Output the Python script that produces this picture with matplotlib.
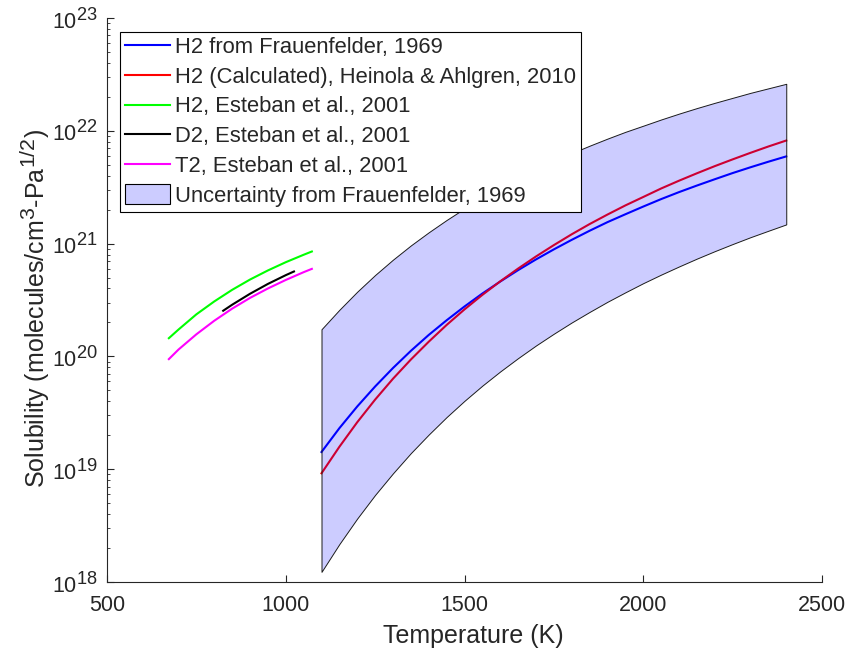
import numpy as np
import matplotlib
matplotlib.use("Agg")
import matplotlib.pyplot as plt
import matplotlib._mathtext as _mt
from matplotlib.patches import Patch, Rectangle
from matplotlib.lines import Line2D
from matplotlib.legend_handler import HandlerPatch
from matplotlib.ticker import LogLocator, NullFormatter

# MATLAB-style (larger) superscripts
_mt.SHRINK_FACTOR = 0.85

plt.rcParams['font.family'] = ['Liberation Sans', 'DejaVu Sans']
plt.rcParams['mathtext.fontset'] = 'custom'
plt.rcParams['mathtext.rm'] = 'Liberation Sans'
plt.rcParams['mathtext.it'] = 'Liberation Sans:italic'
plt.rcParams['mathtext.bf'] = 'Liberation Sans:bold'

# ---------------- data ----------------
T_band = [1100, 1150, 1200, 1250, 1300, 1350, 1400, 1450, 1500, 1550, 1600, 1650, 1700, 1750,
          1800, 1850, 1900, 1950, 2000, 2050, 2100, 2150, 2200, 2250, 2300, 2350, 2400]
H2_frauenfelder = [1.42e19, 2.31e19, 3.60e19, 5.41e19, 7.89e19, 1.12e20, 1.55e20, 2.09e20,
                   2.77e20, 3.61e20, 4.61e20, 5.82e20, 7.24e20, 8.89e20, 1.08e21, 1.30e21,
                   1.55e21, 1.82e21, 2.13e21, 2.48e21, 2.86e21, 3.27e21, 3.72e21, 4.22e21,
                   4.75e21, 5.32e21, 5.93e21]
H2_heinola = [9.20e18, 1.58e19, 2.61e19, 4.14e19, 6.34e19, 9.38e19, 1.35e20, 1.90e20,
              2.61e20, 3.51e20, 4.63e20, 6.01e20, 7.69e20, 9.70e20, 1.21e21, 1.49e21,
              1.81e21, 2.18e21, 2.59e21, 3.08e21, 3.61e21, 4.20e21, 4.86e21, 5.58e21,
              6.38e21, 7.26e21, 8.20e21]
unc_upper = [1.74e20, 2.59e20, 3.75e20, 5.27e20, 7.21e20, 9.64e20, 1.26e21, 1.62e21,
             2.05e21, 2.55e21, 3.13e21, 3.79e21, 4.55e21, 5.40e21, 6.34e21, 7.38e21,
             8.53e21, 9.79e21, 1.11e22, 1.26e22, 1.42e22, 1.59e22, 1.77e22, 1.96e22,
             2.17e22, 2.38e22, 2.61e22]
unc_lower = [1.23e18, 2.17e18, 3.66e18, 5.92e18, 9.20e18, 1.39e19, 2.03e19, 2.90e19,
             4.04e19, 5.51e19, 7.36e19, 9.66e19, 1.25e20, 1.59e20, 2.00e20, 2.48e20,
             3.05e20, 3.70e20, 4.46e20, 5.31e20, 6.27e20, 7.36e20, 8.57e20, 9.91e20,
             1.14e21, 1.30e21, 1.48e21]

T_esteban = [673, 700, 750, 800, 850, 900, 950, 1000, 1050, 1073]
H2_esteban = [1.45e20, 1.73e20, 2.36e20, 3.07e20, 3.89e20, 4.80e20, 5.78e20, 6.84e20, 7.96e20, 8.51e20]
T2_esteban = [9.46e19, 1.15e20, 1.57e20, 2.07e20, 2.65e20, 3.30e20, 4.00e20, 4.76e20, 5.58e20, 5.97e20]

T_d2 = [825, 850, 900, 950, 1000, 1023]
D2_esteban = [2.54e20, 2.87e20, 3.59e20, 4.39e20, 5.25e20, 5.66e20]

labels = ["H2 from Frauenfelder, 1969",
          "H2 (Calculated), Heinola & Ahlgren, 2010",
          "H2, Esteban et al., 2001",
          "D2, Esteban et al., 2001",
          "T2, Esteban et al., 2001",
          "Uncertainty from Frauenfelder, 1969"]
colors = ["#0000ff", "#ff0000", "#00ff00", "#000000", "#ff00ff"]

xticks = [500, 1000, 1500, 2000, 2500]

# ---------------- figure ----------------
fig = plt.figure(figsize=(8.52, 6.61), dpi=100)
ax = fig.add_axes([107/852, 1 - 582/661, 715/852, 564/661])

txtc = (0.15, 0.15, 0.15)
lw = 1.5
ax.plot(T_band, H2_frauenfelder, color=colors[0], lw=lw, zorder=2)
ax.plot(T_band, H2_heinola, color=colors[1], lw=lw, zorder=2)
ax.plot(T_esteban, H2_esteban, color=colors[2], lw=lw, zorder=2)
ax.plot(T_d2, D2_esteban, color=colors[3], lw=lw, zorder=2)
ax.plot(T_esteban, T2_esteban, color=colors[4], lw=lw, zorder=2)
ax.fill_between(T_band, unc_lower, unc_upper, facecolor=(0, 0, 1, 0.2),
                edgecolor=(0.1, 0.1, 0.1, 1), lw=0.7, zorder=3)

ax.set_yscale('log')
ax.set_xlim(500, 2500)
ax.set_ylim(1e18, 1e23)
ax.set_xticks(xticks)
ax.yaxis.set_major_locator(LogLocator(base=10, numticks=10))
ax.yaxis.set_minor_locator(LogLocator(base=10, subs=np.arange(2, 10), numticks=20))
ax.yaxis.set_minor_formatter(NullFormatter())

for s in ['top', 'right']:
    ax.spines[s].set_visible(False)
for s in ['left', 'bottom']:
    ax.spines[s].set_color(txtc)
    ax.spines[s].set_linewidth(0.8)

ax.tick_params(axis='both', which='both', direction='in', colors=txtc, labelcolor=txtc)
ax.tick_params(axis='both', which='major', length=5, width=0.8, labelsize=15.5)
ax.tick_params(axis='y', which='minor', length=2.5, width=0.6)
ax.tick_params(axis='x', which='major', pad=9.5)
ax.tick_params(axis='y', which='major', pad=6.5)

ax.set_xlabel("Temperature (K)", fontsize=18, color=txtc, labelpad=9)
ax.xaxis.set_label_coords((473 - 107) / 715, -0.075)
ax.xaxis.label.set_va('top')
ax.set_ylabel(r"Solubility (molecules/cm$^{3}$-Pa$^{1/2}$)", fontsize=18, color=txtc)
ax.yaxis.set_label_coords((17 - 107) / 715, (582 - 308) / 564)
ax.yaxis.label.set_va('top')

handles = [Line2D([], [], color=c, lw=lw) for c in colors]
handles.append(Patch(facecolor=(0.8, 0.8, 1.0), edgecolor='k', lw=0.8))


def tall_patch(legend, orig_handle, xdescent, ydescent, width, height, fontsize):
    return Rectangle((-xdescent, -ydescent - 0.15 * height), width, height * 1.3)


leg = ax.legend(handles, labels, loc='upper left',
                bbox_to_anchor=((120 - 107) / 715, (582 - 32) / 564),
                borderaxespad=0, fontsize=15.8, frameon=True, fancybox=False,
                framealpha=1, edgecolor='k', handlelength=2.05, handletextpad=0.25,
                labelspacing=0.4, borderpad=0.22,
                handler_map={Patch: HandlerPatch(patch_func=tall_patch)})
leg.get_frame().set_linewidth(0.8)
for t in leg.get_texts():
    t.set_color(txtc)
leg.set_zorder(5)

fig.savefig("out.png", dpi=100)
